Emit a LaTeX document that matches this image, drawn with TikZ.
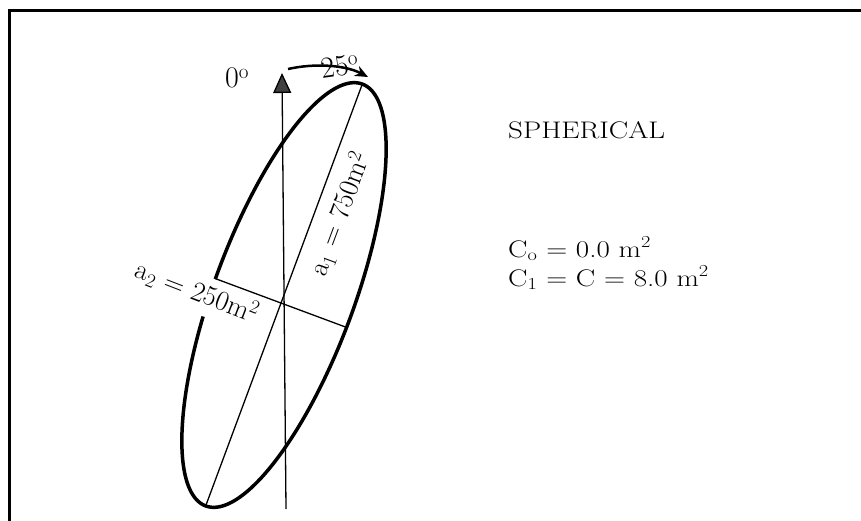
\documentclass[tikz,border=0pt]{standalone}
\usepackage{fontspec}
\usetikzlibrary{arrows.meta}
\tikzset{
  frameline/.style={line width=3pt, line cap=rect},
  ellipseline/.style={line width=3.5pt},
  axisline/.style={line width=1.3pt},
  refline/.style={line width=1.3pt},
  anglbl/.style={inner sep=0pt, font=\fontsize{30}{32}\selectfont},
  axlbl/.style={inner sep=0pt, font=\fontsize{28}{30}\selectfont},
  rtext/.style={inner sep=0pt, anchor=base west, font=\fontsize{24}{26}\selectfont},
}
\newcommand{\wide}[1]{\scalebox{1.21}[1]{#1}}
\begin{document}
\begin{tikzpicture}[x=1pt,y=-1pt]
\useasboundingbox (0,0) rectangle (861,521);
% frame (top and left only)
\coordinate (fBL) at (9,521);
\coordinate (fTL) at (9,11);
\coordinate (fTR) at (861,11);
\draw[frameline] (fBL) -- (fTL) -- (fTR);
% ellipse with a gap behind the a2 label
\draw[ellipseline] plot[domain=177.7:527.6, samples=240, smooth, variable=\t]
  ({284+70*cos(\t)*0.9375-225*sin(\t)*0.348}, {295+70*cos(\t)*0.348+225*sin(\t)*0.9375});
% axes of the ellipse
\coordinate (majT) at (362.3,84.1);
\coordinate (majB) at (205.7,505.9);
\coordinate (minL) at (215.3,278.6);
\coordinate (minR) at (346.5,327.4);
\draw[refline] (majT) -- (majB);
\draw[refline] (minL) -- (minR);
% north axis
\coordinate (axB) at (286,509);
\coordinate (axT) at (282,73);
\draw[axisline, -{Triangle[length=20pt,width=18pt,fill=black!75]}] (axB) -- (axT);
% rotation arrow
\coordinate (rotA) at (288,69);
\coordinate (rotB) at (368,77);
\draw[line width=2.5pt, -{Stealth[length=13pt,width=11pt]}] (rotA) .. controls (315,63) and (345,65) .. (rotB);
% labels
\node[anglbl] (zero) at (237,78) {0\textsuperscript{o}};
\node[anglbl, rotate=8] (twentyfive) at (340,66) {25\textsuperscript{o}};
\node[axlbl, rotate=69.6] (aone) at (340,214) {a\textsubscript{1} = 750m\textsuperscript{2}};
\node[axlbl, rotate=-21.1] (atwo) at (197,292) {a\textsubscript{2} = 250m\textsuperscript{2}};
\node[rtext] (sph) at (508,139) {\wide{SPHERICAL}};
\node[rtext] (cz) at (508,257) {\wide{C\textsubscript{o} = 0.0 m\textsuperscript{2}}};
\node[rtext] (cone) at (508,286) {\wide{C\textsubscript{1} = C = 8.0 m\textsuperscript{2}}};
\end{tikzpicture}
\end{document}
